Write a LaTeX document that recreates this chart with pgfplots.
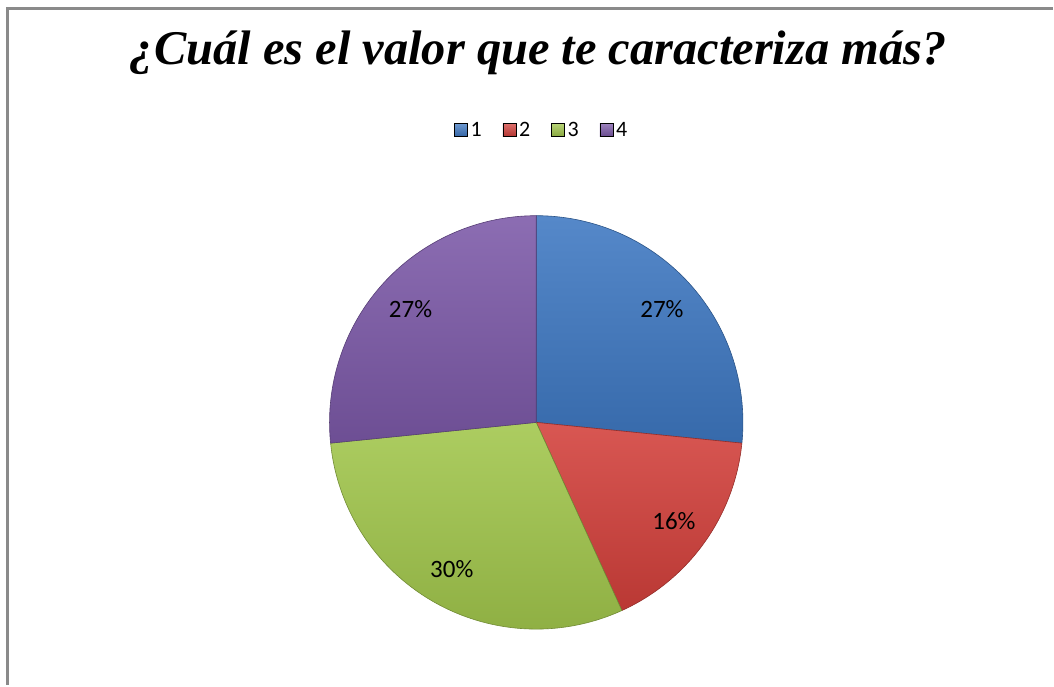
\documentclass[border=0pt]{standalone}
\usepackage{pgfplots}
\pgfplotsset{compat=1.18}
\usepackage{pgfplotstable}
\usepackage{fontspec}
\setmainfont{Carlito}
\newfontfamily\titlefont{Liberation Serif}

\definecolor{c0}{HTML}{3E78C2}
\definecolor{c1}{HTML}{D3403B}
\definecolor{c2}{HTML}{A1C64B}
\definecolor{c3}{HTML}{7C59A8}
\definecolor{framegray}{HTML}{8A8A8A}

\pgfplotstableread{
idx value label
0 26.6 27
1 16.6 16
2 30.2 30
3 26.6 27
}\piedata

% cumulative angles (clockwise from 12 o'clock)
\def\cum{0}
\pgfplotsforeachungrouped \i in {0,...,3}{%
  \pgfplotstablegetelem{\i}{value}\of\piedata
  \pgfmathsetmacro{\s}{90-3.6*\cum}%
  \pgfmathsetmacro{\newcum}{\cum+\pgfplotsretval}%
  \pgfmathsetmacro{\e}{90-3.6*\newcum}%
  \pgfmathsetmacro{\m}{(\s+\e)/2}%
  \expandafter\xdef\csname sa\i\endcsname{\s}%
  \expandafter\xdef\csname ea\i\endcsname{\e}%
  \expandafter\xdef\csname ma\i\endcsname{\m}%
  \pgfplotstablegetelem{\i}{label}\of\piedata
  \expandafter\xdef\csname lab\i\endcsname{\pgfplotsretval}%
  \let\cum\newcum
}

\begin{document}
\begin{tikzpicture}
\begin{axis}[
  x=1pt, y=1pt,
  xmin=0, xmax=1054, ymin=0, ymax=686,
  hide axis,
  clip=false,
  legend image code/.code={\fill[#1] (0pt,-6.5pt) rectangle (13pt,6.5pt);},
  legend style={at={(axis cs:543,556)}, anchor=center, draw=none, fill=none,
    legend columns=-1,
    nodes={font=\fontsize{22}{26}\selectfont, inner sep=3pt},
    /tikz/every even column/.append style={column sep=18pt},
    inner sep=0pt},
]
\addlegendimage{top color=c0!75!white, bottom color=c0!85!black}
\addlegendimage{top color=c1!75!white, bottom color=c1!85!black}
\addlegendimage{top color=c2!75!white, bottom color=c2!85!black}
\addlegendimage{top color=c3!75!white, bottom color=c3!85!black}
\legend{1,2,3,4}

% page box
\path (axis cs:0,0) rectangle (axis cs:1054,686);
% frame (left and top edges visible)
\draw[framegray, line width=3pt] (axis cs:1054,677) -- (axis cs:8,677) -- (axis cs:8,0);

\pgfplotsinvokeforeach{0,...,3}{
  \shade[top color=c#1!88!white, bottom color=c#1!88!black, draw=c#1!70!black, line width=0.6pt]
    (axis cs:537,263) --
    (axis cs:{537+207*cos(\csname sa#1\endcsname)},{263+207*sin(\csname sa#1\endcsname)})
    arc[start angle=\csname sa#1\endcsname, end angle=\csname ea#1\endcsname, radius=207] -- cycle;
}
\pgfplotsinvokeforeach{0,...,3}{
  \node[font=\fontsize{25}{30}\selectfont, text=black]
    at (axis cs:{537+0.82*207*cos(\csname ma#1\endcsname)},{263+0.82*207*sin(\csname ma#1\endcsname)})
    {\csname lab#1\endcsname\%};
}

\node[font=\titlefont\bfseries\itshape\fontsize{48.5}{54}\selectfont]
  at (axis cs:539,633) {¿Cuál es el valor que te caracteriza más?};
\end{axis}
\end{tikzpicture}
\end{document}
